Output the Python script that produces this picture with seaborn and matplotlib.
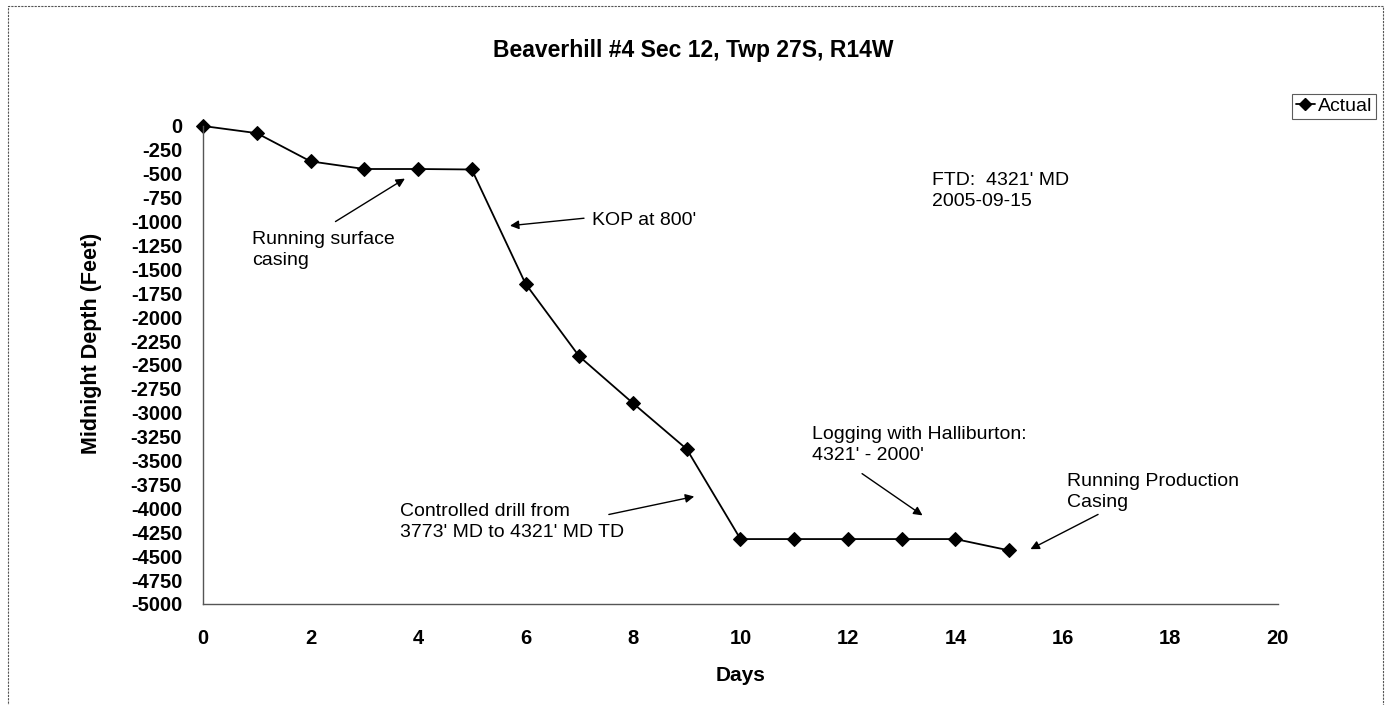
import matplotlib
matplotlib.use("Agg")
import matplotlib.pyplot as plt
import pandas as pd
import seaborn as sns
from matplotlib.patches import Rectangle

# data
days = [0, 1, 2, 3, 4, 5, 6, 7, 8, 9, 10, 11, 12, 13, 14, 15]
depth = [0, -75, -370, -450, -450, -455, -1650, -2410, -2900, -3380,
         -4321, -4321, -4321, -4321, -4321, -4440]
x_ticks = list(range(0, 21, 2))
y_ticks = list(range(0, -5001, -250))

df = pd.DataFrame({"Days": days, "Depth": depth, "Series": "Actual"})

sns.set_theme(style="white")
plt.rcParams["font.family"] = ["Liberation Sans", "DejaVu Sans"]
plt.rcParams["text.color"] = "black"
plt.rcParams["axes.labelcolor"] = "black"
plt.rcParams["xtick.color"] = "black"
plt.rcParams["ytick.color"] = "black"

fig = plt.figure(figsize=(13.86, 7.05), dpi=100)
ax = fig.add_axes([0.1465, 0.1433, 0.7755, 0.678])

sns.lineplot(data=df, x="Days", y="Depth", hue="Series", palette=["black"],
             marker="D", markersize=7, markeredgecolor="black", linewidth=1.3,
             ax=ax, legend=False, clip_on=False)

ax.set_xlim(0, 20)
ax.set_ylim(-5000, 0)
ax.set_xticks(x_ticks)
ax.set_yticks(y_ticks)
ax.set_xticklabels([str(t) for t in x_ticks], fontsize=14.5, fontweight="bold")
ax.set_yticklabels([str(t) for t in y_ticks], fontsize=14.5, fontweight="bold")
ax.tick_params(axis="x", direction="out", length=4, width=0.8, pad=14, color="#555555")
ax.tick_params(axis="y", direction="out", length=4, width=0.8, pad=11, color="#555555")
ax.set_xlabel("Days", fontsize=15, fontweight="bold")
ax.set_ylabel("Midnight Depth (Feet)", fontsize=15.5, fontweight="bold")
ax.xaxis.set_label_coords(0.5, -0.13)
ax.yaxis.set_label_coords(-0.094, 0.546)
for s in ["top", "right"]:
    ax.spines[s].set_visible(False)
for s in ["left", "bottom"]:
    ax.spines[s].set_color("#555555")
    ax.spines[s].set_linewidth(1.0)

fig.text(0.5, 0.928, "Beaverhill #4 Sec 12, Twp 27S, R14W", ha="center", va="center",
         fontsize=16.5, fontweight="bold")

# annotations
arrow = dict(arrowstyle="-|>", color="black", lw=1.0, mutation_scale=13)
note_fs = 14
ls = 1.3
ax.annotate("", xy=(3.8, -535), xytext=(2.42, -1015), arrowprops=arrow)
ax.text(0.92, -1300, "Running surface\ncasing", fontsize=note_fs, va="center", ha="left",
        linespacing=ls)
ax.annotate("", xy=(5.66, -1046), xytext=(7.14, -962), arrowprops=arrow)
ax.text(7.24, -985, "KOP at 800'", fontsize=note_fs, va="center", ha="left")
ax.text(13.56, -680, "FTD:  4321' MD\n2005-09-15", fontsize=note_fs, va="center", ha="left",
        linespacing=ls)
ax.annotate("", xy=(9.19, -3870), xytext=(7.5, -4070), arrowprops=arrow)
ax.text(3.67, -4140, "Controlled drill from\n3773' MD to 4321' MD TD", fontsize=note_fs,
        va="center", ha="left", linespacing=ls)
ax.annotate("", xy=(13.43, -4090), xytext=(12.22, -3620), arrowprops=arrow)
ax.text(11.33, -3340, "Logging with Halliburton:\n4321' - 2000'", fontsize=note_fs,
        va="center", ha="left", linespacing=ls)
ax.annotate("", xy=(15.35, -4440), xytext=(16.7, -4050), arrowprops=arrow)
ax.text(16.07, -3830, "Running Production\nCasing", fontsize=note_fs, va="center",
        ha="left", linespacing=ls)

# legend outside the plot area
handle = plt.Line2D([], [], color="black", marker="D", markersize=6, lw=1.3)
leg = fig.legend([handle], ["Actual"], loc="center", bbox_to_anchor=(0.9625, 0.849),
                 fontsize=14, frameon=True, fancybox=False, handlelength=1.0,
                 borderpad=0.2, handletextpad=0.15, borderaxespad=0)
leg.get_frame().set_edgecolor("#333333")
leg.get_frame().set_linewidth(0.8)

# chart area border
fig.patches.append(Rectangle((0.006, -0.01), 0.992, 1.002, transform=fig.transFigure,
                             fill=False, ec="#555555", lw=0.8, ls=(0, (2, 1))))

fig.savefig("out.png", dpi=100)
